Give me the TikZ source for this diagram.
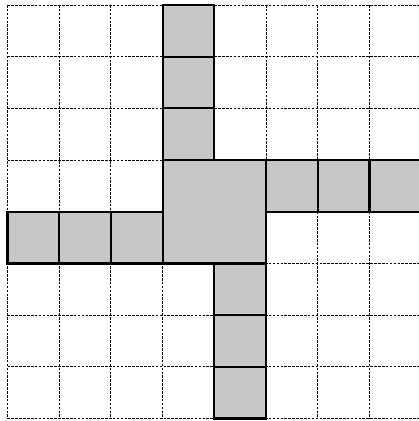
\documentclass[tikz,border=0pt]{standalone}
\begin{document}
\begin{tikzpicture}[
  gridline/.style={line width=0.9pt, dash pattern=on 2.6pt off 1.3pt, black},
  cellbox/.style={fill=black!22, draw=black, line width=2.2pt}
]
\useasboundingbox (0,0) rectangle (419pt,421pt);
\clip (0,0) rectangle (419pt,421pt);
\begin{scope}[x=51.7pt, y=-51.7pt, shift={(7.5pt,416pt)}]
  % dashed grid
  \foreach \i in {0,...,9} \draw[gridline] (\i,0) -- (\i,8);
  \foreach \j in {0,...,8} \draw[gridline] (0,\j) -- (9,\j);
  % top arm
  \foreach \j in {0,1,2} \draw[cellbox] (3,\j) rectangle (4,\j+1);
  % center
  \draw[cellbox] (3,3) rectangle (5,5);
  % right arm
  \foreach \i in {5,6,7} \draw[cellbox] (\i,3) rectangle (\i+1,4);
  % left arm
  \foreach \i in {0,1,2} \draw[cellbox] (\i,4) rectangle (\i+1,5);
  % bottom arm
  \foreach \j in {5,6,7} \draw[cellbox] (4,\j) rectangle (5,\j+1);
\end{scope}
\end{tikzpicture}
\end{document}
